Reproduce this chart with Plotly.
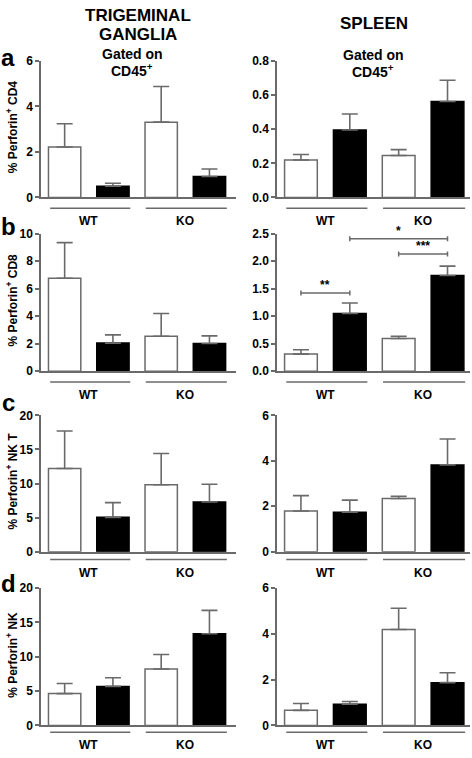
import plotly.graph_objects as go

W, H = 472, 758

# ---- data ----
positions = [0, 1, 2, 3]
genotype_labels = ["WT", "KO"]
fills = ["white", "black", "white", "black"]

tg_cd4 = [2.22, 0.49, 3.31, 0.92]
tg_cd4_err = [1.02, 0.13, 1.57, 0.33]
sp_cd4 = [0.219, 0.395, 0.246, 0.562]
sp_cd4_err = [0.033, 0.094, 0.034, 0.125]

tg_cd8 = [6.76, 2.04, 2.54, 2.01]
tg_cd8_err = [2.59, 0.60, 1.66, 0.56]
sp_cd8 = [0.31, 1.05, 0.595, 1.74]
sp_cd8_err = [0.08, 0.19, 0.04, 0.17]

tg_nkt = [12.2, 5.04, 9.83, 7.3]
tg_nkt_err = [5.5, 2.16, 4.57, 2.6]
sp_nkt = [1.79, 1.74, 2.34, 3.82]
sp_nkt_err = [0.68, 0.53, 0.10, 1.14]

tg_nk = [4.64, 5.69, 8.23, 13.35]
tg_nk_err = [1.48, 1.25, 2.10, 3.40]
sp_nk = [0.66, 0.93, 4.19, 1.87]
sp_nk_err = [0.30, 0.12, 0.93, 0.43]

# significance brackets (spleen CD8): (x0, x1, y, label)
sig_cd8 = [(0, 1, 1.42, "**"), (1, 3, 2.41, "*"), (2, 3, 2.13, "***")]

panels = [
    # (values, errors, y range, tick values, tick text)
    (tg_cd4, tg_cd4_err, [0, 6], [0, 2, 4, 6], ["0", "2", "4", "6"]),
    (sp_cd4, sp_cd4_err, [0, 0.8], [0, 0.2, 0.4, 0.6, 0.8], ["0.0", "0.2", "0.4", "0.6", "0.8"]),
    (tg_cd8, tg_cd8_err, [0, 10], [0, 2, 4, 6, 8, 10], ["0", "2", "4", "6", "8", "10"]),
    (sp_cd8, sp_cd8_err, [0, 2.5], [0, 0.5, 1.0, 1.5, 2.0, 2.5], ["0.0", "0.5", "1.0", "1.5", "2.0", "2.5"]),
    (tg_nkt, tg_nkt_err, [0, 20], [0, 5, 10, 15, 20], ["0", "5", "10", "15", "20"]),
    (sp_nkt, sp_nkt_err, [0, 6], [0, 2, 4, 6], ["0", "2", "4", "6"]),
    (tg_nk, tg_nk_err, [0, 20], [0, 5, 10, 15, 20], ["0", "5", "10", "15", "20"]),
    (sp_nk, sp_nk_err, [0, 6], [0, 2, 4, 6], ["0", "2", "4", "6"]),
]

ytitles = ["% Perforin<sup>+</sup> CD4", "% Perforin<sup>+</sup> CD8",
           "% Perforin<sup>+</sup> NK T", "% Perforin<sup>+</sup> NK"]
letters = ["a", "b", "c", "d"]

# ---- layout helpers (pixel -> paper) ----
def px(x):
    return x / W

def py(y):
    return 1 - y / H

def b(s):
    return f"<b>{s}</b>"

FONT = "Liberation Sans, Arial, sans-serif"
GREY = "#6a6a6a"

col_x = [(41, 236), (277, 470)]
col_range = [[-0.49, 3.55], [-0.49, 3.46]]
row_y = [(55, 194), (231, 371), (416, 555), (592, 732)]
group_line_y = [205, 382, 563, 739]
group_label_y = [218, 395, 577, 752]
letter_y = [51, 224, 403, 587]

fig = go.Figure()
layout = dict(
    width=W, height=H, margin=dict(l=0, r=0, t=0, b=0),
    paper_bgcolor="white", plot_bgcolor="white", showlegend=False,
    font=dict(family=FONT, size=12, color="black"),
)
shapes = []
annotations = []

for i, (vals, errs, yr, tv, tt) in enumerate(panels):
    r, c = divmod(i, 2)
    k = i + 1
    xa = "x" if k == 1 else f"x{k}"
    ya = "y" if k == 1 else f"y{k}"
    xkey = "xaxis" if k == 1 else f"xaxis{k}"
    ykey = "yaxis" if k == 1 else f"yaxis{k}"

    fig.add_trace(go.Bar(
        x=positions, y=vals, width=0.67,
        marker=dict(color=fills,
                    line=dict(color=[GREY if f == "white" else "black" for f in fills], width=1.5)),
        error_y=dict(type="data", symmetric=False, array=errs, arrayminus=[0] * 4,
                     color=GREY, thickness=1.6, width=8),
        xaxis=xa, yaxis=ya, hoverinfo="skip",
    ))

    layout[xkey] = dict(
        domain=[px(col_x[c][0]), px(col_x[c][1])], range=col_range[c],
        anchor=ya, showline=True, linecolor=GREY, linewidth=1.5,
        showticklabels=False, ticks="", showgrid=False, zeroline=False, fixedrange=True,
    )
    layout[ykey] = dict(
        domain=[py(row_y[r][1]), py(row_y[r][0])], range=yr,
        anchor=xa, showline=True, linecolor=GREY, linewidth=1.5,
        tickvals=tv, ticktext=[b(t) for t in tt], ticks="outside", ticklen=4, tickwidth=1.5,
        tickcolor=GREY, tickfont=dict(family=FONT, size=12, color="black"),
        showgrid=False, zeroline=False, fixedrange=True,
    )

    # group lines and labels
    for (x0, x1), lab, xc in zip([(-0.3, 1.36), (1.68, 3.36)], genotype_labels, [0.5, 2.5]):
        shapes.append(dict(type="line", xref=xa, yref="paper", x0=x0, x1=x1,
                           y0=py(group_line_y[r]), y1=py(group_line_y[r]),
                           line=dict(color=GREY, width=1.5)))
        annotations.append(dict(text=b(lab), xref=xa, yref="paper", x=xc, y=py(group_label_y[r]),
                                showarrow=False, xanchor="center", yanchor="middle",
                                font=dict(family=FONT, size=12)))

    if c == 0:
        annotations.append(dict(text=b(ytitles[r]), textangle=-90, xref="paper", yref="paper",
                                x=px(12), y=py((row_y[r][0] + row_y[r][1]) / 2 - 2),
                                showarrow=False, xanchor="center", yanchor="middle",
                                font=dict(family=FONT, size=12)))
        annotations.append(dict(text=b(letters[r]), xref="paper", yref="paper",
                                x=px(8), y=py(letter_y[r]), showarrow=False,
                                xanchor="center", yanchor="middle",
                                font=dict(family=FONT, size=24)))

    if i == 3:
        for x0, x1, yv, lab in sig_cd8:
            shapes.append(dict(type="line", xref=xa, yref=ya, x0=x0, x1=x1, y0=yv, y1=yv,
                               line=dict(color=GREY, width=1.5)))
            for xe in (x0, x1):
                shapes.append(dict(type="line", xref=xa, yref=ya, x0=xe, x1=xe,
                                   y0=yv - 0.045, y1=yv + 0.045,
                                   line=dict(color=GREY, width=1.5)))
            annotations.append(dict(text=b(lab), xref=xa, yref=ya, x=(x0 + x1) / 2, y=yv,
                                    showarrow=False, xanchor="center", yanchor="bottom",
                                    yshift=-1, font=dict(family=FONT, size=12)))

# headers
head = dict(showarrow=False, xref="paper", yref="paper", xanchor="center", yanchor="middle")
annotations += [
    dict(text=b("TRIGEMINAL"), x=px(138), y=py(9), font=dict(family=FONT, size=17), **head),
    dict(text=b("GANGLIA"), x=px(138), y=py(28), font=dict(family=FONT, size=17), **head),
    dict(text=b("SPLEEN"), x=px(374), y=py(17), font=dict(family=FONT, size=17), **head),
    dict(text=b("Gated on"), x=px(132), y=py(48), font=dict(family=FONT, size=14), **head),
    dict(text=b("CD45<sup>+</sup>"), x=px(132), y=py(64), font=dict(family=FONT, size=14), **head),
    dict(text=b("Gated on"), x=px(373), y=py(49), font=dict(family=FONT, size=14), **head),
    dict(text=b("CD45<sup>+</sup>"), x=px(373), y=py(65), font=dict(family=FONT, size=14), **head),
]

layout["shapes"] = shapes
layout["annotations"] = annotations
fig.update_layout(**layout)
fig.write_html("out.html", config={"displayModeBar": False},
               post_script="document.body.style.margin='0';document.body.style.overflow='hidden';")
